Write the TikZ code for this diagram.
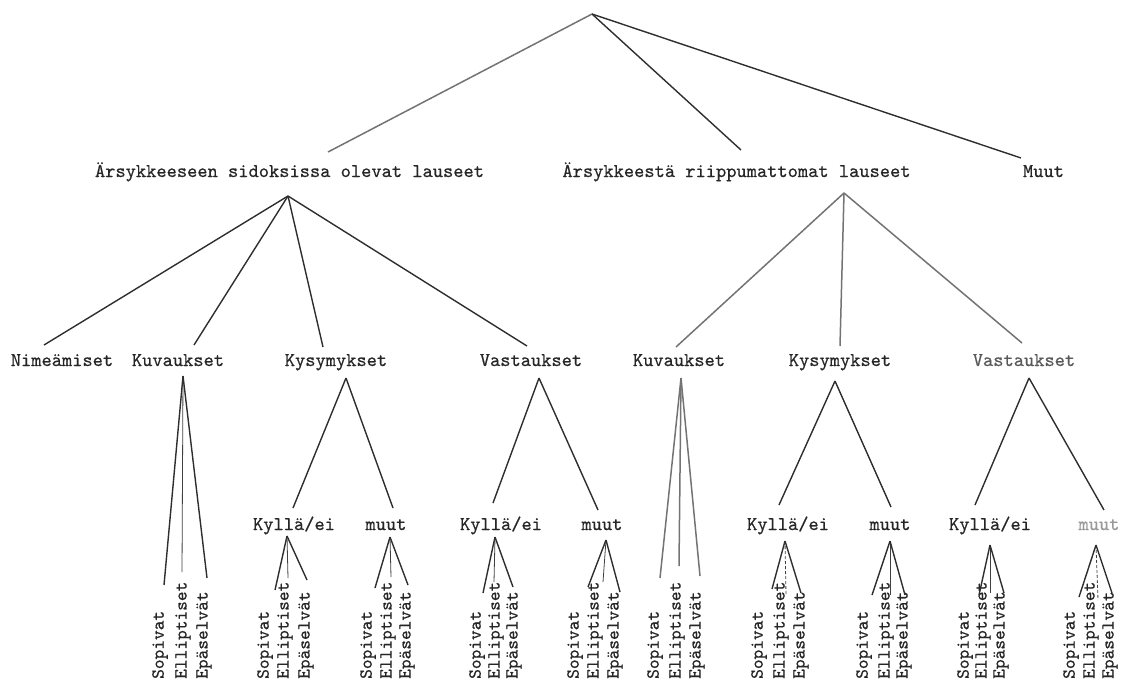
\documentclass[tikz,border=0pt]{standalone}
\usepackage{fontspec}
\newfontfamily\typew[FakeBold=0.6]{lmmono10-regular.otf}
\begin{document}
\begin{tikzpicture}[x=1pt,y=-1pt,
  lbl/.style={font=\typew\fontsize{19.5}{20}\selectfont, inner sep=0pt, anchor=base, text=black!85},
  vlbl/.style={font=\typew\fontsize{18.5}{19}\selectfont, inner sep=0pt, anchor=west, rotate=90, text=black!85},
  edge/.style={line width=1.4pt, draw=black!82},
  faint/.style={line width=1.5pt, draw=black!55},
  thinedge/.style={line width=0.8pt, draw=black!75}]
\useasboundingbox (0,0) rectangle (1124,681);

% ---------- level 1 ----------
\coordinate (root) at (592,14);

% ---------- level 2 ----------
\node[lbl] (A) at (289.5,177) {Ärsykkeeseen sidoksissa olevat lauseet};
\node[lbl] (B) at (736.5,177) {Ärsykkeestä riippumattomat lauseet};
\node[lbl] (C) at (1043.5,177) {Muut};
\coordinate (Ain) at (328,152);
\coordinate (Bin) at (741,150);
\coordinate (Cin) at (1021,158);
\coordinate (Aout) at (288,196);
\coordinate (Bout) at (844,193);
\draw[faint] (root) -- (Ain);
\draw[edge] (root) -- (Bin);
\draw[edge] (root) -- (Cin);

% ---------- level 3 ----------
\node[lbl] (Nim) at (62,366) {Nimeämiset};
\node[lbl] (LKuv) at (178,366) {Kuvaukset};
\node[lbl] (LKys) at (336,366) {Kysymykset};
\node[lbl] (LVas) at (531,366) {Vastaukset};
\node[lbl] (RKuv) at (679,366) {Kuvaukset};
\node[lbl] (RKys) at (840,366) {Kysymykset};
\node[lbl, text=black!65] (RVas) at (1024,366) {Vastaukset};

\coordinate (Nimin) at (44,345);
\coordinate (LKuvin) at (194,345);
\coordinate (LKysin) at (323,347);
\coordinate (LVasin) at (527,346);
\coordinate (RKuvin) at (676,347);
\coordinate (RKysin) at (840,346);
\coordinate (RVasin) at (1022,343);
\draw[edge] (Aout) -- (Nimin);
\draw[edge] (Aout) -- (LKuvin);
\draw[edge] (Aout) -- (LKysin);
\draw[edge] (Aout) -- (LVasin);
\draw[faint] (Bout) -- (RKuvin);
\draw[faint] (Bout) -- (RKysin);
\draw[faint] (Bout) -- (RVasin);

\coordinate (LKuvout) at (183,376);
\coordinate (LKysout) at (346,378);
\coordinate (LVasout) at (539,378);
\coordinate (RKuvout) at (681,378);
\coordinate (RKysout) at (835,381);
\coordinate (RVasout) at (1029,378);

% ---------- level 4 ----------
\node[lbl] (LKy) at (294,530) {Kyllä/ei};
\node[lbl] (LKm) at (386,530) {muut};
\node[lbl] (LVy) at (501,530) {Kyllä/ei};
\node[lbl] (LVm) at (602,530) {muut};
\node[lbl] (RKy) at (788,530) {Kyllä/ei};
\node[lbl] (RKm) at (890,530) {muut};
\node[lbl] (RVy) at (990,530) {Kyllä/ei};
\node[lbl, text=black!40] (RVm) at (1099,530) {muut};

\coordinate (LKyin) at (293,508);
\coordinate (LKmin) at (393,508);
\coordinate (LVyin) at (493,503);
\coordinate (LVmin) at (598,510);
\coordinate (RKyin) at (779,505);
\coordinate (RKmin) at (891,507);
\coordinate (RVyin) at (975,505);
\coordinate (RVmin) at (1104,510);
\draw[edge] (LKysout) -- (LKyin);
\draw[edge] (LKysout) -- (LKmin);
\draw[edge] (LVasout) -- (LVyin);
\draw[edge] (LVasout) -- (LVmin);
\draw[edge] (RKysout) -- (RKyin);
\draw[edge] (RKysout) -- (RKmin);
\draw[edge] (RVasout) -- (RVyin);
\draw[edge] (RVasout) -- (RVmin);

\coordinate (LKyout) at (287,536);
\coordinate (LKmout) at (390,537);
\coordinate (LVyout) at (495,537);
\coordinate (LVmout) at (606,540);
\coordinate (RKyout) at (785,541);
\coordinate (RKmout) at (890,541);
\coordinate (RVyout) at (990,545);
\coordinate (RVmout) at (1096,545);

% ---------- leaves ----------
% Left Kuvaukset
\node[vlbl] (s1) at (160,679) {Sopivat};
\node[vlbl] (e1) at (183,679) {Elliptiset};
\node[vlbl] (p1) at (204,679) {Epäselvät};
\coordinate (s1in) at (164,585); \coordinate (e1in) at (182,572); \coordinate (p1in) at (207,578);
\draw[edge] (LKuvout) -- (s1in); \draw[thinedge] (LKuvout) -- (e1in); \draw[edge] (LKuvout) -- (p1in);
% Left Kysymykset / Kyllä/ei
\node[vlbl] (s2) at (265,679) {Sopivat};
\node[vlbl] (e2) at (285,679) {Elliptiset};
\node[vlbl] (p2) at (306,679) {Epäselvät};
\coordinate (s2in) at (275,590); \coordinate (e2in) at (288,578); \coordinate (p2in) at (307,580);
\draw[edge] (LKyout) -- (s2in); \draw[thinedge] (LKyout) -- (e2in); \draw[edge] (LKyout) -- (p2in);
% Left Kysymykset / muut
\node[vlbl] (s3) at (368,679) {Sopivat};
\node[vlbl] (e3) at (388,679) {Elliptiset};
\node[vlbl] (p3) at (407,679) {Epäselvät};
\coordinate (s3in) at (375,588); \coordinate (e3in) at (391,577); \coordinate (p3in) at (408,585);
\draw[edge] (LKmout) -- (s3in); \draw[thinedge] (LKmout) -- (e3in); \draw[edge] (LKmout) -- (p3in);
% Left Vastaukset / Kyllä/ei
\node[vlbl] (s4) at (477,679) {Sopivat};
\node[vlbl] (e4) at (496,679) {Elliptiset};
\node[vlbl] (p4) at (514,679) {Epäselvät};
\coordinate (s4in) at (483,593); \coordinate (e4in) at (494,582); \coordinate (p4in) at (513,587);
\draw[edge] (LVyout) -- (s4in); \draw[thinedge] (LVyout) -- (e4in); \draw[edge] (LVyout) -- (p4in);
% Left Vastaukset / muut
\node[vlbl] (s5) at (575,679) {Sopivat};
\node[vlbl] (e5) at (595,679) {Elliptiset};
\node[vlbl] (p5) at (615,679) {Epäselvät};
\coordinate (s5in) at (588,587); \coordinate (e5in) at (603,582); \coordinate (p5in) at (620,592);
\draw[edge] (LVmout) -- (s5in); \draw[thinedge] (LVmout) -- (e5in); \draw[edge] (LVmout) -- (p5in);
% Right Kuvaukset
\node[vlbl] (s6) at (655,679) {Sopivat};
\node[vlbl] (e6) at (677,679) {Elliptiset};
\node[vlbl] (p6) at (697,679) {Epäselvät};
\coordinate (s6in) at (660,578); \coordinate (e6in) at (679,566); \coordinate (p6in) at (700,576);
\draw[faint] (RKuvout) -- (s6in); \draw[faint] (RKuvout) -- (e6in); \draw[faint] (RKuvout) -- (p6in);
% Right Kysymykset / Kyllä/ei
\node[vlbl] (s7) at (759,679) {Sopivat};
\node[vlbl] (e7) at (781,679) {Elliptiset};
\node[vlbl] (p7) at (801,679) {Epäselvät};
\coordinate (s7in) at (772,589); \coordinate (e7in) at (786,595); \coordinate (p7in) at (801,593);
\draw[edge] (RKyout) -- (s7in); \draw[thinedge,densely dashed] (RKyout) -- (e7in); \draw[edge] (RKyout) -- (p7in);
% Right Kysymykset / muut
\node[vlbl] (s8) at (864,679) {Sopivat};
\node[vlbl] (e8) at (886,679) {Elliptiset};
\node[vlbl] (p8) at (904,679) {Epäselvät};
\coordinate (s8in) at (872,595); \coordinate (e8in) at (890,595); \coordinate (p8in) at (905,595);
\draw[edge] (RKmout) -- (s8in); \draw[thinedge] (RKmout) -- (e8in); \draw[edge] (RKmout) -- (p8in);
% Right Vastaukset / Kyllä/ei
\node[vlbl] (s9) at (965,679) {Sopivat};
\node[vlbl] (e9) at (983,679) {Elliptiset};
\node[vlbl] (p9) at (1001,679) {Epäselvät};
\coordinate (s9in) at (979,595); \coordinate (e9in) at (990,593); \coordinate (p9in) at (1004,593);
\draw[edge] (RVyout) -- (s9in); \draw[thinedge] (RVyout) -- (e9in); \draw[edge] (RVyout) -- (p9in);
% Right Vastaukset / muut
\node[vlbl] (s10) at (1071,679) {Sopivat};
\node[vlbl] (e10) at (1091,679) {Elliptiset};
\node[vlbl] (p10) at (1110,679) {Epäselvät};
\coordinate (s10in) at (1079,597); \coordinate (e10in) at (1098,600); \coordinate (p10in) at (1112,593);
\draw[edge] (RVmout) -- (s10in); \draw[thinedge,densely dashed] (RVmout) -- (e10in); \draw[edge] (RVmout) -- (p10in);
\end{tikzpicture}
\end{document}
